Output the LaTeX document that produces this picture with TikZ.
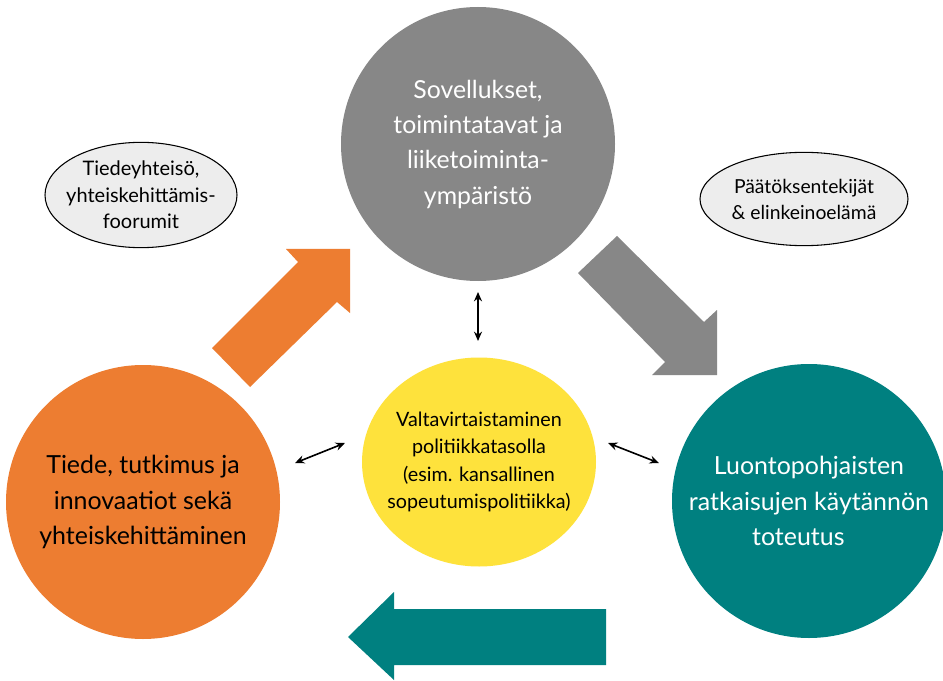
\documentclass[tikz,border=0pt]{standalone}
\usepackage{fontspec}
\setmainfont{Lato}
\usetikzlibrary{arrows.meta,shapes.geometric}
\definecolor{corange}{HTML}{ED7D31}
\definecolor{cgray}{HTML}{878787}
\definecolor{cteal}{HTML}{008080}
\definecolor{cyellow}{HTML}{FEE23C}
\definecolor{cell}{HTML}{EDEDED}
\tikzset{
  bigcircle/.style={circle,inner sep=0pt,minimum size=205.5pt,align=center},
  bigtext/.style={font=\fontsize{18.7}{26.5}\selectfont},
  oval/.style={ellipse,draw=black,line width=0.8pt,fill=cell,inner xsep=-25pt,inner ysep=-12pt,align=center},
  dbl/.style={{Stealth[length=7pt,width=6pt]}-{Stealth[length=7pt,width=6pt]},line width=1.2pt,black}
}
\begin{document}
\begin{tikzpicture}[x=0.75pt,y=-0.75pt]
\useasboundingbox (0,0) rectangle (943,681);
\fill[white] (0,0) rectangle (943,681);
% big arrows
\fill[corange] (212,348) -- (298,262) -- (286,249) -- (350,249) -- (350,313) -- (337,302) -- (250,387) -- cycle;
\fill[cgray] (617,236) -- (704,322) -- (717,310) -- (717,375) -- (652,375) -- (665,362) -- (578,273) -- cycle;
\fill[cteal] (348,637) -- (394,592) -- (394,609) -- (606,609) -- (606,665) -- (394,665) -- (394,680) -- cycle;
% circles
\node[bigcircle,fill=cgray,text=white,font=\fontsize{18.6}{26.5}\selectfont] (gray) at (478,144) {Sovellukset,\\toimintatavat ja\\liiketoiminta-\\ympäristö};
\node[bigcircle,bigtext,fill=corange,text=black] (orange) at (143,502) {Tiede, tutkimus ja\\innovaatiot sekä\\yhteiskehittäminen};
\node[bigcircle,bigtext,fill=cteal,text=white] (teal) at (809,501) {Luontopohjaisten\\ratkaisujen käytännön\\toteutus\hspace*{16pt}};
\node[ellipse,fill=cyellow,inner xsep=-30pt,inner ysep=-20pt,minimum width=175.5pt,minimum height=156.75pt,align=center,font=\fontsize{14.8}{20.5}\selectfont] (yellow) at (479,462) {Valtavirtaistaminen\\politiikkatasolla\\(esim. kansallinen\\sopeutumispolitiikka)};
% ovals
\node[oval,minimum width=144pt,minimum height=79pt,font=\fontsize{15}{20}\selectfont] (left) at (141,195) {Tiedeyhteisö,\\yhteiskehittämis-\\foorumit};
\node[oval,minimum width=156pt,minimum height=70pt,font=\fontsize{14.5}{19.5}\selectfont] (right) at (804,199) {Päätöksentekijät\\\& elinkeinoelämä};
% double arrows
\coordinate (v1) at (478,292);
\coordinate (v2) at (478,341);
\coordinate (l1) at (295,463);
\coordinate (l2) at (345,443);
\coordinate (r1) at (608,443);
\coordinate (r2) at (659,463);
\draw[dbl] (v1) -- (v2);
\draw[dbl] (l1) -- (l2);
\draw[dbl] (r1) -- (r2);
\end{tikzpicture}
\end{document}
